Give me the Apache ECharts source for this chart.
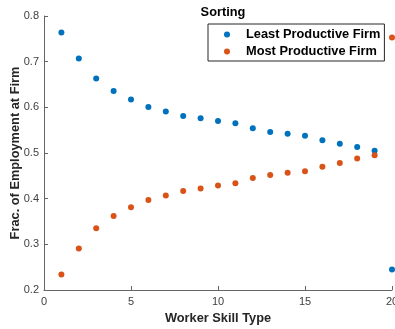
<!DOCTYPE html>
<html><head><meta charset="utf-8">
<script src="https://cdn.jsdelivr.net/npm/echarts@6/dist/echarts.min.js"></script>
<style>html,body{margin:0;padding:0;background:#fff}#c{width:395px;height:329px}</style>
</head><body><div id="c"></div>
<script>
const skillTypes = [1,2,3,4,5,6,7,8,9,10,11,12,13,14,15,16,17,18,19,20];
const leastProductive = [0.764,0.707,0.663,0.636,0.617,0.601,0.591,0.581,0.576,0.570,0.565,0.554,0.546,0.542,0.538,0.528,0.520,0.513,0.505,0.245];
const mostProductive = [0.234,0.291,0.335,0.362,0.381,0.397,0.407,0.417,0.422,0.429,0.434,0.445,0.452,0.457,0.460,0.470,0.478,0.488,0.495,0.753];
const xTicks = [0,5,10,15,20];
const yTicks = [0.2,0.3,0.4,0.5,0.6,0.7,0.8];

const font = 'Liberation Sans, Arial, Helvetica, sans-serif';
const chart = echarts.init(document.getElementById('c'), null, {renderer:'canvas'});
const axisCommon = {
  axisLine:{show:true, lineStyle:{color:'#666', width:1}},
  axisTick:{show:true, inside:true, length:4, lineStyle:{color:'#666'}},
  splitLine:{show:false},
  axisLabel:{color:'#404040', fontSize:11, fontFamily:font},
  nameTextStyle:{color:'#262626', fontSize:12.8, fontWeight:'bold', fontFamily:font},
  nameMoveOverlap:false
};
chart.setOption({
  animation:false,
  backgroundColor:'#fff',
  title:{text:'Sorting', left:218, textAlign:'center', top:1,
    textStyle:{fontSize:12.8, fontWeight:'bold', color:'#000', fontFamily:font}},
  legend:{
    left:208, top:24, orient:'vertical',
    backgroundColor:'#fff', borderColor:'#262626', borderWidth:1,
    padding:[2,4,1,16], itemGap:0, itemWidth:6, itemHeight:6,
    textStyle:{fontSize:12.8, fontWeight:'bold', color:'#000', fontFamily:font, lineHeight:17, padding:[0,0,0,11]},
    data:[{name:'Least Productive Firm', icon:'circle', itemStyle:{opacity:1}},{name:'Most Productive Firm', icon:'circle', itemStyle:{opacity:1}}]
  },
  grid:{left:44, right:3, top:16, bottom:39, containLabel:false, outerBoundsMode:'none'},
  xAxis:Object.assign({}, axisCommon, {
    type:'value', min:xTicks[0], max:xTicks[xTicks.length-1], interval:5,
    name:'Worker Skill Type', nameLocation:'middle', nameGap:22,
    axisLabel:Object.assign({}, axisCommon.axisLabel, {margin:6})
  }),
  yAxis:Object.assign({}, axisCommon, {
    type:'value', min:yTicks[0], max:yTicks[yTicks.length-1], interval:0.1,
    name:'Frac. of Employment at Firm', nameLocation:'middle', nameGap:22,
    axisLabel:Object.assign({}, axisCommon.axisLabel, {margin:5, formatter:v=>v.toFixed(1)})
  }),
  series:[
    {name:'Least Productive Firm', type:'scatter', symbol:'circle', symbolSize:6,
      itemStyle:{color:'#0072BD', opacity:1}, data:skillTypes.map((x,i)=>[x,leastProductive[i]]), clip:false},
    {name:'Most Productive Firm', type:'scatter', symbol:'circle', symbolSize:6,
      itemStyle:{color:'#D95319', opacity:1}, data:skillTypes.map((x,i)=>[x,mostProductive[i]]), clip:false}
  ]
});
</script></body></html>
